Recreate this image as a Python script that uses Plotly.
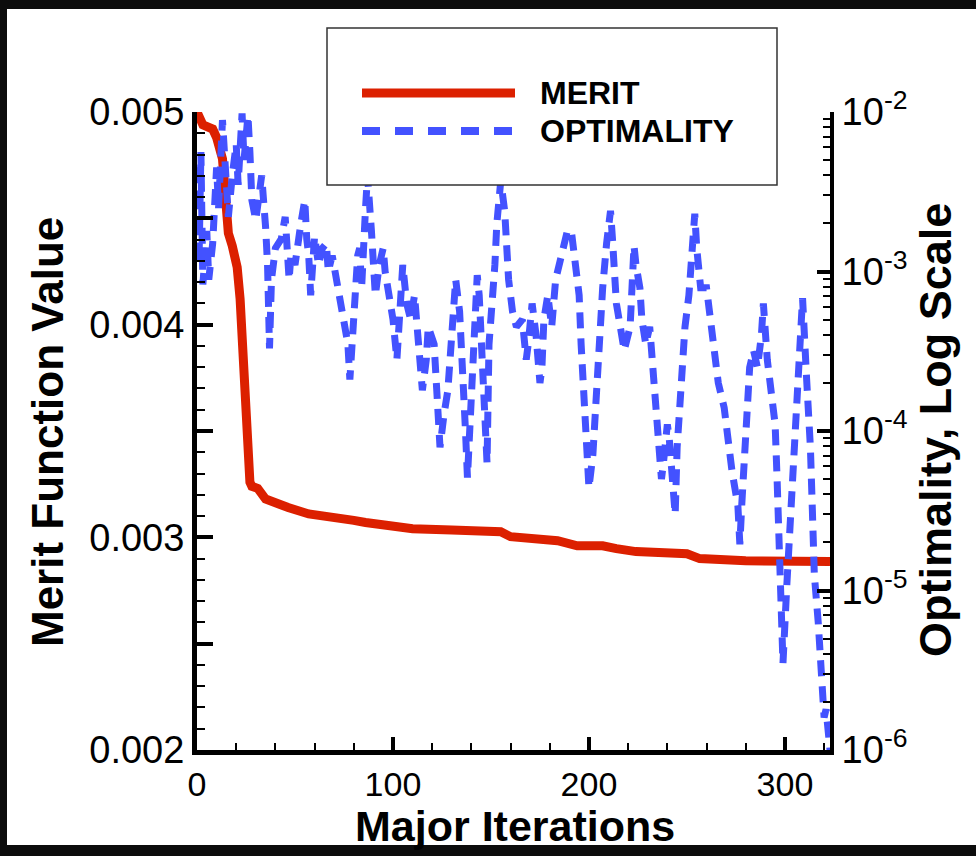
import plotly.graph_objects as go

# ---------------- data ----------------
merit_iter = [0, 2, 3, 8, 10, 13, 14.5, 16, 18, 20.5, 22, 23.5, 25.5, 27, 28, 31, 35, 40,
              46.5, 57, 68, 80, 86, 97, 110, 130, 144, 155, 160, 184, 194, 207, 214, 224,
              250, 256.5, 280, 323]
merit_value = [0.00500, 0.00497, 0.00494, 0.00492, 0.00488, 0.00478, 0.00462, 0.00443,
               0.00437, 0.00427, 0.00412, 0.00380, 0.00350, 0.00326, 0.00324, 0.00323,
               0.00318, 0.00316, 0.00314, 0.00311, 0.00310, 0.00308, 0.00307, 0.003054,
               0.00304, 0.003035, 0.00303, 0.003026, 0.003003, 0.002984, 0.00296, 0.00296,
               0.002947, 0.002933, 0.002923, 0.00290, 0.00289, 0.002886]

opt_iter = [0, 1, 2, 3, 5, 6, 8, 10, 11, 13, 14, 16, 18, 20, 21, 23, 24, 26, 27, 28, 30,
            33, 35, 36, 37, 38, 40, 43, 45, 47, 48, 50, 53, 55, 56, 57, 58, 60, 62, 64, 66,
            67, 69, 71, 73, 75, 77, 78, 80, 82, 83, 84, 86, 87, 89, 90, 91, 93, 95, 96, 98,
            100, 102, 105, 107, 109, 111, 113, 114, 115, 117, 118, 121, 122, 123, 124, 126,
            128, 130, 131, 132, 134, 135, 136, 137, 138, 139, 140, 141, 143, 144, 145, 146,
            147, 148, 149, 151, 152, 153, 155, 157, 158, 159, 161, 163, 166, 168, 169, 171,
            173, 175, 176, 177, 179, 181, 183, 185, 187, 189, 191, 193, 195, 196, 197, 198,
            199, 200, 202, 203, 204, 205, 207, 209, 211, 212, 213, 214, 216, 218, 221, 222,
            223, 224, 226, 227, 229, 231, 233, 234, 235, 237, 238, 240, 241, 242, 243, 244,
            245, 246, 247, 249, 251, 253, 254, 255, 257, 260, 262, 264, 266, 269, 271, 273,
            276, 277, 278, 279, 280, 281, 282, 284, 286, 288, 289, 291, 293, 295, 296, 297,
            298, 299, 301, 302, 303, 304, 305, 306, 307, 308, 309, 311, 312, 313, 314, 315,
            317, 318, 319, 320, 321, 322, 323]
opt_value = [4.5e-3, 1.1e-3, 5.6e-3, 8.3e-4, 1.8e-3, 8.9e-4, 1.5e-3, 4.5e-3, 2.5e-3, 8.9e-3,
             5.6e-3, 2.2e-3, 4.0e-3, 6.3e-3, 3.5e-3, 9.8e-3, 5.0e-3, 9.5e-3, 5.6e-3, 2.8e-3,
             2.1e-3, 4.0e-3, 1.9e-3, 1.1e-3, 3.3e-4, 8.9e-4, 1.4e-3, 1.6e-3, 2.2e-3, 8.9e-4,
             1.3e-3, 1.1e-3, 2.0e-3, 2.8e-3, 1.6e-3, 1.26e-3, 7.1e-4, 1.66e-3, 1.1e-3, 1.4e-3,
             1.5e-3, 1.0e-3, 1.26e-3, 8.9e-4, 7.1e-4, 5.0e-4, 3.5e-4, 2.1e-4, 6.3e-4, 1.26e-3,
             1.4e-3, 7.9e-4, 2.5e-3, 4.0e-3, 1.8e-3, 1.0e-3, 7.1e-4, 1.1e-3, 1.4e-3, 1.0e-3,
             7.1e-4, 5.0e-4, 2.8e-4, 1.1e-3, 6.3e-4, 5.0e-4, 7.1e-4, 4.0e-4, 2.5e-4, 1.8e-4,
             2.8e-4, 4.5e-4, 3.5e-4, 2.0e-4, 1.1e-4, 7.9e-5, 1.26e-4, 1.8e-4, 4.0e-4, 7.1e-4,
             8.9e-4, 5.6e-4, 3.5e-4, 1.8e-4, 1.0e-4, 5.1e-5, 1.0e-4, 2.0e-4, 3.5e-4, 9.5e-4,
             7.1e-4, 4.0e-4, 2.2e-4, 1.1e-4, 6.3e-5, 3.5e-4, 7.1e-4, 1.1e-3, 2.0e-3, 3.7e-3,
             2.4e-3, 1.4e-3, 8.9e-4, 5.6e-4, 4.5e-4, 5.0e-4, 2.8e-4, 3.5e-4, 6.3e-4, 4.0e-4,
             2.0e-4, 2.5e-4, 5.0e-4, 7.1e-4, 4.5e-4, 8.9e-4, 1.1e-3, 1.4e-3, 1.8e-3, 1.8e-3,
             1.1e-3, 7.1e-4, 3.5e-4, 2.0e-4, 1.1e-4, 7.1e-5, 4.4e-5, 7.1e-5, 1.26e-4, 2.2e-4,
             3.5e-4, 7.9e-4, 1.5e-3, 2.4e-3, 1.6e-3, 1.0e-3, 6.3e-4, 4.5e-4, 3.2e-4, 4.5e-4,
             7.9e-4, 1.45e-3, 1.1e-3, 7.9e-4, 5.0e-4, 3.5e-4, 4.5e-4, 2.2e-4, 1.4e-4, 7.9e-5,
             5.0e-5, 6.3e-5, 1.1e-4, 8.9e-5, 6.3e-5, 4.5e-5, 3.0e-5, 7.9e-5, 1.26e-4, 2.0e-4,
             4.5e-4, 7.1e-4, 1.4e-3, 2.3e-3, 1.4e-3, 7.9e-4, 7.9e-4, 5.0e-4, 3.2e-4, 2.0e-4,
             1.4e-4, 7.9e-5, 5.6e-5, 3.4e-5, 1.95e-5, 3.5e-5, 5.6e-5, 9.5e-5, 1.6e-4, 2.5e-4,
             3.2e-4, 2.5e-4, 4.0e-4, 6.3e-4, 2.8e-4, 1.8e-4, 1.1e-4, 5.0e-5, 2.0e-5, 7.9e-6,
             3.5e-6, 1.1e-5, 1.8e-5, 2.5e-5, 4.2e-5, 7.1e-5, 1.1e-4, 1.8e-4, 2.8e-4, 6.8e-4,
             2.2e-4, 1.4e-4, 7.9e-5, 3.2e-5, 1.26e-5, 6.3e-6, 4.0e-6, 2.0e-6, 1.6e-6, 1.8e-6,
             1.4e-6, 1.0e-6]

x_tickvals = [0, 100, 200, 300]
merit_tickvals = [0.002, 0.0025, 0.003, 0.0035, 0.004, 0.0045, 0.005]
merit_ticktext = ["0.002", "", "0.003", "", "0.004", "", "0.005"]
opt_tickvals = [1e-6, 1e-5, 1e-4, 1e-3, 1e-2]
opt_ticktext = ["10<sup>-6</sup>", "10<sup>-5</sup>", "10<sup>-4</sup>",
                "10<sup>-3</sup>", "10<sup>-2</sup>"]
legend_names = ["MERIT", "OPTIMALITY"]

# ---------------- style ----------------
RED = "#DC2000"
BLUE = "#4352FF"
FONT = "Liberation Sans"
W, H = 976, 856
L, R, T, B = 197, 146, 112, 106
PW, PH = W - L - R, H - T - B


def px(xp):
    return (xp - L) / PW


def py(yp):
    return (H - B - yp) / PH


opt_minor = [m * d for d in opt_tickvals[:-1] for m in range(2, 10)]

fig = go.Figure()
fig.add_trace(go.Scatter(x=merit_iter, y=merit_value, mode="lines",
                         line=dict(color=RED, width=9), name=legend_names[0],
                         showlegend=False, yaxis="y"))
fig.add_trace(go.Scatter(x=opt_iter, y=opt_value, mode="lines",
                         line=dict(color=BLUE, width=7, dash="16px,10px"),
                         name=legend_names[1], showlegend=False, yaxis="y2"))

axis_font = dict(family=FONT, size=38, color="black")
x_font = dict(family=FONT, size=34, color="black")

fig.update_layout(
    width=W, height=H,
    margin=dict(l=L, r=R, t=T, b=B, pad=0),
    paper_bgcolor="#0c0c0c",
    plot_bgcolor="white",
    font=dict(family=FONT, color="black"),
    xaxis=dict(range=[0, 323], tickvals=x_tickvals, ticks="inside", ticklen=13,
               tickwidth=4, tickcolor="black", showline=True, linewidth=5,
               linecolor="black", showgrid=False, zeroline=False, tickfont=x_font,
               minor=dict(dtick=20, ticks="inside", ticklen=7, tickwidth=1.5,
                          tickcolor="black", showgrid=False)),
    yaxis=dict(range=[0.002, 0.005], tickvals=merit_tickvals, ticktext=merit_ticktext,
               ticks="inside", ticklen=16, tickwidth=4, tickcolor="black",
               showline=True, linewidth=5, linecolor="black", showgrid=False,
               zeroline=False, tickfont=axis_font,
               minor=dict(dtick=0.0001, ticks="inside", ticklen=8, tickwidth=1.5,
                          tickcolor="black", showgrid=False)),
    yaxis2=dict(type="log", range=[-6, -2], overlaying="y", side="right",
                tickvals=opt_tickvals, ticktext=opt_ticktext, ticks="inside",
                ticklen=13, tickwidth=4, tickcolor="black", showline=True, linewidth=4,
                linecolor="black", showgrid=False, zeroline=False, tickfont=axis_font,
                minor=dict(tickvals=opt_minor, ticks="inside", ticklen=7,
                           tickwidth=1.5, tickcolor="black", showgrid=False)),
)

shapes = [
    # white page inside the dark frame
    dict(type="rect", xref="paper", yref="paper", x0=px(7), x1=px(W + 5),
         y0=py(845), y1=py(9), fillcolor="white", line=dict(width=0), layer="below"),
    # legend box
    dict(type="rect", xref="paper", yref="paper", x0=px(327), x1=px(777),
         y0=py(185), y1=py(28), fillcolor="white", line=dict(color="#333", width=1.5),
         layer="above"),
    dict(type="line", xref="paper", yref="paper", x0=px(362), x1=px(515),
         y0=py(93), y1=py(93), line=dict(color=RED, width=9)),
    dict(type="line", xref="paper", yref="paper", x0=px(362), x1=px(515),
         y0=py(131), y1=py(131), line=dict(color=BLUE, width=8, dash="18px,15px")),
]

annotations = [
    dict(text="<b>" + legend_names[0] + "</b>", xref="paper", yref="paper",
         x=px(538), y=py(93), xanchor="left", yanchor="middle", showarrow=False,
         font=dict(family=FONT, size=32, color="black")),
    dict(text="<b>" + legend_names[1] + "</b>", xref="paper", yref="paper",
         x=px(538), y=py(131), xanchor="left", yanchor="middle", showarrow=False,
         font=dict(family=FONT, size=32, color="black")),
    dict(text="<b>Major Iterations</b>", xref="paper", yref="paper", x=px(515),
         y=py(826), xanchor="center", yanchor="middle", showarrow=False,
         font=dict(family=FONT, size=43, color="black")),
    dict(text="<b>Merit Function Value</b>", xref="paper", yref="paper", x=px(48),
         y=py(432), xanchor="center", yanchor="middle", showarrow=False, textangle=-90,
         font=dict(family=FONT, size=44, color="black")),
    dict(text="<b>Optimality, Log Scale</b>", xref="paper", yref="paper", x=px(935),
         y=py(430), xanchor="center", yanchor="middle", showarrow=False, textangle=-90,
         font=dict(family=FONT, size=45, color="black")),
]

fig.update_layout(shapes=shapes, annotations=annotations)
fig.write_html("out.html")
